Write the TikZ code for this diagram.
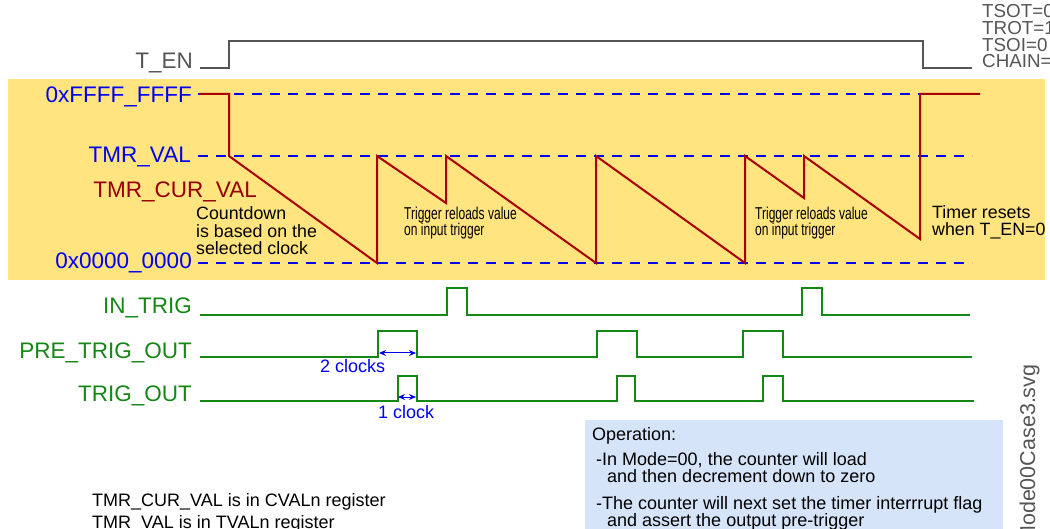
\documentclass[tikz,border=0pt]{standalone}
\usepackage{fontspec}
\setmainfont{Liberation Sans}
\newfontfamily\narrowfont[FakeStretch=0.7]{Liberation Sans}
\usetikzlibrary{arrows.meta}

\definecolor{bgyellow}{RGB}{255,228,128}
\definecolor{opblue}{RGB}{214,228,250}
\definecolor{cntred}{RGB}{170,0,0}
\definecolor{lblred}{RGB}{150,0,0}
\definecolor{trggreen}{RGB}{20,135,20}
\definecolor{lvlblue}{RGB}{0,0,240}
\definecolor{engray}{RGB}{85,85,85}

\begin{document}
\begin{tikzpicture}[x=1pt,y=-1pt,>=Stealth,
  siglbl/.style={anchor=base east,inner sep=0pt,font=\fontsize{22.5}{24}\selectfont},
  notetxt/.style={anchor=base west,inner sep=0pt,align=left,font=\fontsize{17.8}{17.5}\selectfont},
  trgtxt/.style={anchor=base west,inner sep=0pt,align=left,font=\narrowfont\fontsize{17.2}{16.5}\selectfont},
  optxt/.style={anchor=base west,inner sep=0pt,align=left,font=\fontsize{18}{17}\selectfont},
  enwave/.style={engray,line width=2pt},
  lvlline/.style={lvlblue,line width=2.5pt,dash pattern=on 10pt off 8pt},
  cntwave/.style={cntred,line width=2pt,line join=miter},
  trgwave/.style={trggreen,line width=2.5pt},
  clkarrow/.style={lvlblue,line width=1pt,{Stealth[length=7pt,width=6pt]}-{Stealth[length=7pt,width=6pt]}}]
  \useasboundingbox (0,0) rectangle (1050,529);
  \clip (0,0) rectangle (1050,529);

  % backgrounds
  \fill[bgyellow] (8,79) rectangle (1045,280);
  \fill[opblue] (585,420) rectangle (1003,529);

  % enable and counter levels
  \draw[enwave] (200,68) -- (229,68) -- (229,41) -- (923,41) -- (923,68) -- (972,68);
  \foreach \yy in {94,156,263}
    \draw[lvlline] (198,\yy) -- (972,\yy);
  \draw[cntwave] (200,94) -- (229,94) -- (229,156) -- (377,263) -- (377,156)
    -- (446,203) -- (446,156) -- (596,263) -- (596,156) -- (745,263) -- (745,156)
    -- (804,198) -- (804,156) -- (920,239) -- (920,94) -- (980,94);

  % trigger signals
  \draw[trgwave] (200,315) -- (447,315) -- (447,288) -- (467,288) -- (467,315)
    -- (802,315) -- (802,288) -- (822,288) -- (822,315) -- (970,315);
  \draw[trgwave] (200,357) -- (378,357) -- (378,331) -- (417,331) -- (417,357)
    -- (597,357) -- (597,331) -- (637,331) -- (637,357)
    -- (743,357) -- (743,331) -- (783,331) -- (783,357) -- (972,357);
  \draw[trgwave] (200,401) -- (398,401) -- (398,376) -- (417,376) -- (417,401)
    -- (617,401) -- (617,376) -- (635,376) -- (635,401)
    -- (763,401) -- (763,376) -- (783,376) -- (783,401) -- (974,401);

  % signal names
  \node[siglbl,engray] (ten) at (193,69) {T\_EN};
  \node[siglbl,lvlblue] (vmax) at (192,103) {0xFFFF\_FFFF};
  \node[siglbl,lvlblue] (tmrval) at (191,163) {TMR\_VAL};
  \node[siglbl,lblred] (curval) at (257,198) {TMR\_CUR\_VAL};
  \node[siglbl,lvlblue] (vmin) at (192,269) {0x0000\_0000};
  \node[siglbl,trggreen] (intrig) at (192,314) {IN\_TRIG};
  \node[siglbl,trggreen] (pretrig) at (192,359) {PRE\_TRIG\_OUT};
  \node[siglbl,trggreen] (trigout) at (192,402) {TRIG\_OUT};

  % notes (base = last line)
  \node[notetxt] (countdown) at (196,255) {Countdown\\is based on the\\selected clock};
  \node[trgtxt] (reloadA) at (404,236) {Trigger reloads value\\on input trigger};
  \node[trgtxt] (reloadB) at (755,236) {Trigger reloads value\\on input trigger};
  \node[notetxt] (reset) at (932,236) {Timer resets\\when T\_EN=0};
  \node[anchor=base west,inner sep=0pt,align=left,engray,
    font=\fontsize{18.8}{16.7}\selectfont] (modes) at (982,68) {TSOT=0\\TROT=1\\TSOI=0\\CHAIN=0};

  % clock spacing
  \coordinate (preup) at (379,353);
  \coordinate (predn) at (416,353);
  \coordinate (trgup) at (398,397);
  \coordinate (trgdn) at (416,397);
  \draw[clkarrow] (preup) -- (predn);
  \draw[clkarrow] (trgup) -- (trgdn);
  \node[anchor=base west,inner sep=0pt,lvlblue,font=\fontsize{18}{18}\selectfont] (twoclk) at (320,373) {2 clocks};
  \node[anchor=base west,inner sep=0pt,lvlblue,font=\fontsize{18}{18}\selectfont] (oneclk) at (378,418) {1 clock};

  % register notes and operation
  \node[optxt] (regcur) at (92,506) {TMR\_CUR\_VAL is in CVALn register};
  \node[optxt] (regval) at (92,528) {TMR\_VAL is in TVALn register};
  \node[optxt] (ophead) at (592,440) {Operation:};
  \node[optxt] (opone) at (596,482) {-In Mode=00, the counter will load\\\hspace*{11pt}and then decrement down to zero};
  \node[optxt] (optwo) at (596,526) {-The counter will next set the timer interrrupt flag\\\hspace*{11pt}and assert the output pre-trigger};

  % file name
  \node[rotate=90,anchor=base west,inner sep=0pt,engray,font=\fontsize{21.5}{20}\selectfont] (fname) at (1035,544) {Mode00Case3.svg};
\end{tikzpicture}
\end{document}
